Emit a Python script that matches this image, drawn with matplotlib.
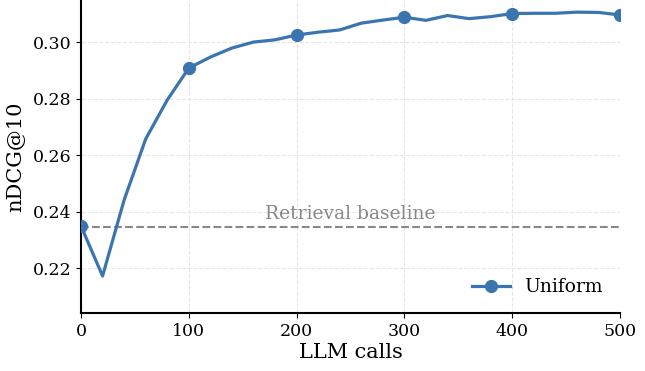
import matplotlib

matplotlib.use("Agg")
import matplotlib.pyplot as plt

# LLM calls budget vs nDCG@10 (uniform allocation)
calls = [0, 20, 40, 60, 80, 100, 120, 140, 160, 180, 200, 220, 240,
         260, 280, 300, 320, 340, 360, 380, 400, 420, 440, 460, 480, 500]
ndcg_uniform = [0.2349, 0.2172, 0.2441, 0.2657, 0.2795, 0.2908, 0.2947,
                0.2979, 0.3000, 0.3008, 0.3025, 0.3035, 0.3043, 0.3067,
                0.3078, 0.3088, 0.3077, 0.3094, 0.3083, 0.3090, 0.3101,
                0.3102, 0.3102, 0.3106, 0.3105, 0.3096]
baseline = 0.2345

plt.rcParams["font.family"] = "DejaVu Serif"

fig = plt.figure(figsize=(6.45, 3.71), dpi=100)
ax = fig.add_axes([0.1256, 0.1563, 0.8356, 0.8437])

ax.plot(calls, ndcg_uniform, color="#3b75af", lw=2.3, marker="o",
        markersize=8.5, markevery=5, label="Uniform", zorder=3)
ax.axhline(baseline, color="#888888", ls="--", lw=1.5, zorder=2)
ax.text(250, baseline + 0.0013, "Retrieval baseline", color="#888888",
        fontsize=13.5, ha="center", va="bottom")

ax.set_xlim(0, 500)
ax.set_ylim(0.2041, 0.3149)
ax.set_xticks([0, 100, 200, 300, 400, 500])
ax.set_yticks([0.22, 0.24, 0.26, 0.28, 0.30])
ax.set_yticklabels(["0.22", "0.24", "0.26", "0.28", "0.30"])
ax.tick_params(labelsize=12.5)
ax.grid(True, ls="--", color="#e6e6e6", lw=0.8)
ax.spines["top"].set_visible(False)
ax.spines["right"].set_visible(False)
ax.spines["left"].set_linewidth(1.5)
ax.spines["bottom"].set_linewidth(1.5)
ax.set_xlabel("LLM calls", fontsize=15, labelpad=2)
ax.set_ylabel("nDCG@10", fontsize=15, labelpad=5)
ax.legend(loc="lower right", frameon=False, fontsize=13.5)

fig.savefig("out.png", dpi=100)
plt.close(fig)
